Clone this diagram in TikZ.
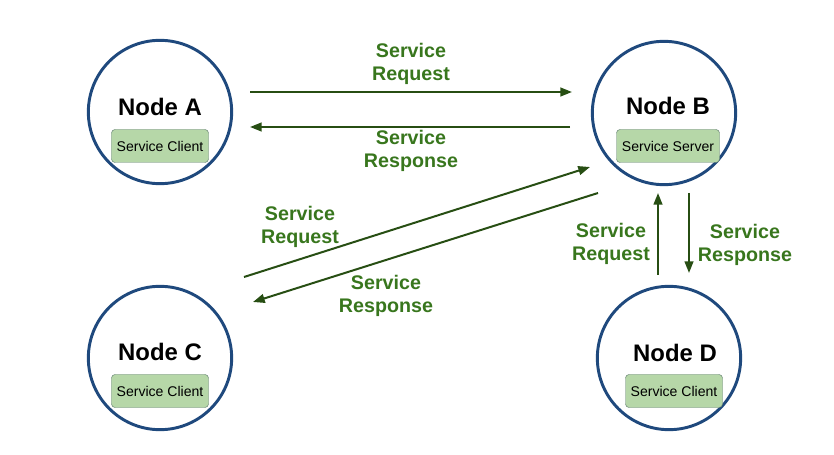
\documentclass[tikz,border=0pt]{standalone}
\usepackage{fontspec}
\setmainfont{Liberation Sans}
\usetikzlibrary{arrows.meta, positioning, calc}
\definecolor{nodeblue}{RGB}{31,73,125}
\definecolor{arrowgreen}{RGB}{39,78,19}
\definecolor{labelgreen}{RGB}{56,118,29}
\definecolor{boxfill}{RGB}{182,215,168}
\definecolor{boxline}{RGB}{96,125,110}
\begin{document}
\begin{tikzpicture}[x=0.03cm, y=-0.03cm,
  rosnode/.style={circle, draw=nodeblue, line width=2.5pt, minimum size=4.3cm, inner sep=0pt},
  title/.style={font=\fontsize{20.4}{24}\selectfont\bfseries},
  role/.style={draw=boxline, fill=boxfill, rounded corners=3pt, minimum width=2.91cm,
    minimum height=0.99cm, inner sep=2pt, font=\fontsize{12}{14}\selectfont},
  msg/.style={text=labelgreen, align=center, font=\fontsize{16.8}{19.6}\selectfont\bfseries},
  link/.style={-{Triangle[length=10pt,width=7.5pt]}, arrowgreen, line width=1.7pt}]
  \useasboundingbox (0,0) rectangle (834,455);
  % nodes
  \node[rosnode] (nA) at (160,112) {};
  \node[rosnode] (nB) at (664,113) {};
  \node[rosnode] (nC) at (160,358) {};
  \node[rosnode] (nD) at (669,358) {};
  \node[title] (tA) at (160,107) {Node A};
  \node[title] (tB) at (668,106) {Node B};
  \node[title] (tC) at (160,352) {Node C};
  \node[title] (tD) at (675,353) {Node D};
  \node[role] (cA) at (160,146) {Service Client};
  \node[role, minimum width=3.09cm] (sB) at (668,146) {Service Server};
  \node[role] (cC) at (160,391) {Service Client};
  \node[role] (cD) at (674,391) {Service Client};
  % arrow ends
  \coordinate (ab1) at (250,92);  \coordinate (ab2) at (572,92);
  \coordinate (ba1) at (570,127); \coordinate (ba2) at (250,127);
  \coordinate (cb1) at (244,277); \coordinate (cb2) at (590,167);
  \coordinate (bc1) at (598,193); \coordinate (bc2) at (253,302);
  \coordinate (db1) at (658,275); \coordinate (db2) at (658,193);
  \coordinate (bd1) at (689,193); \coordinate (bd2) at (689,273);
  \draw[link] (ab1) -- (ab2);
  \draw[link] (ba1) -- (ba2);
  \draw[link] (cb1) -- (cb2);
  \draw[link] (bc1) -- (bc2);
  \draw[link] (db1) -- (db2);
  \draw[link] (bd1) -- (bd2);
  % labels
  \node[msg] (lab) at (411,64) {Service\\Request};
  \node[msg] (lba) at (411,151) {Service\\Response};
  \node[msg] (lcb) at (300,227) {Service\\Request};
  \node[msg] (lbc) at (386,296) {Service\\Response};
  \node[msg] (ldb) at (611,244) {Service\\Request};
  \node[msg] (lbd) at (745,245) {Service\\Response};
\end{tikzpicture}
\end{document}
